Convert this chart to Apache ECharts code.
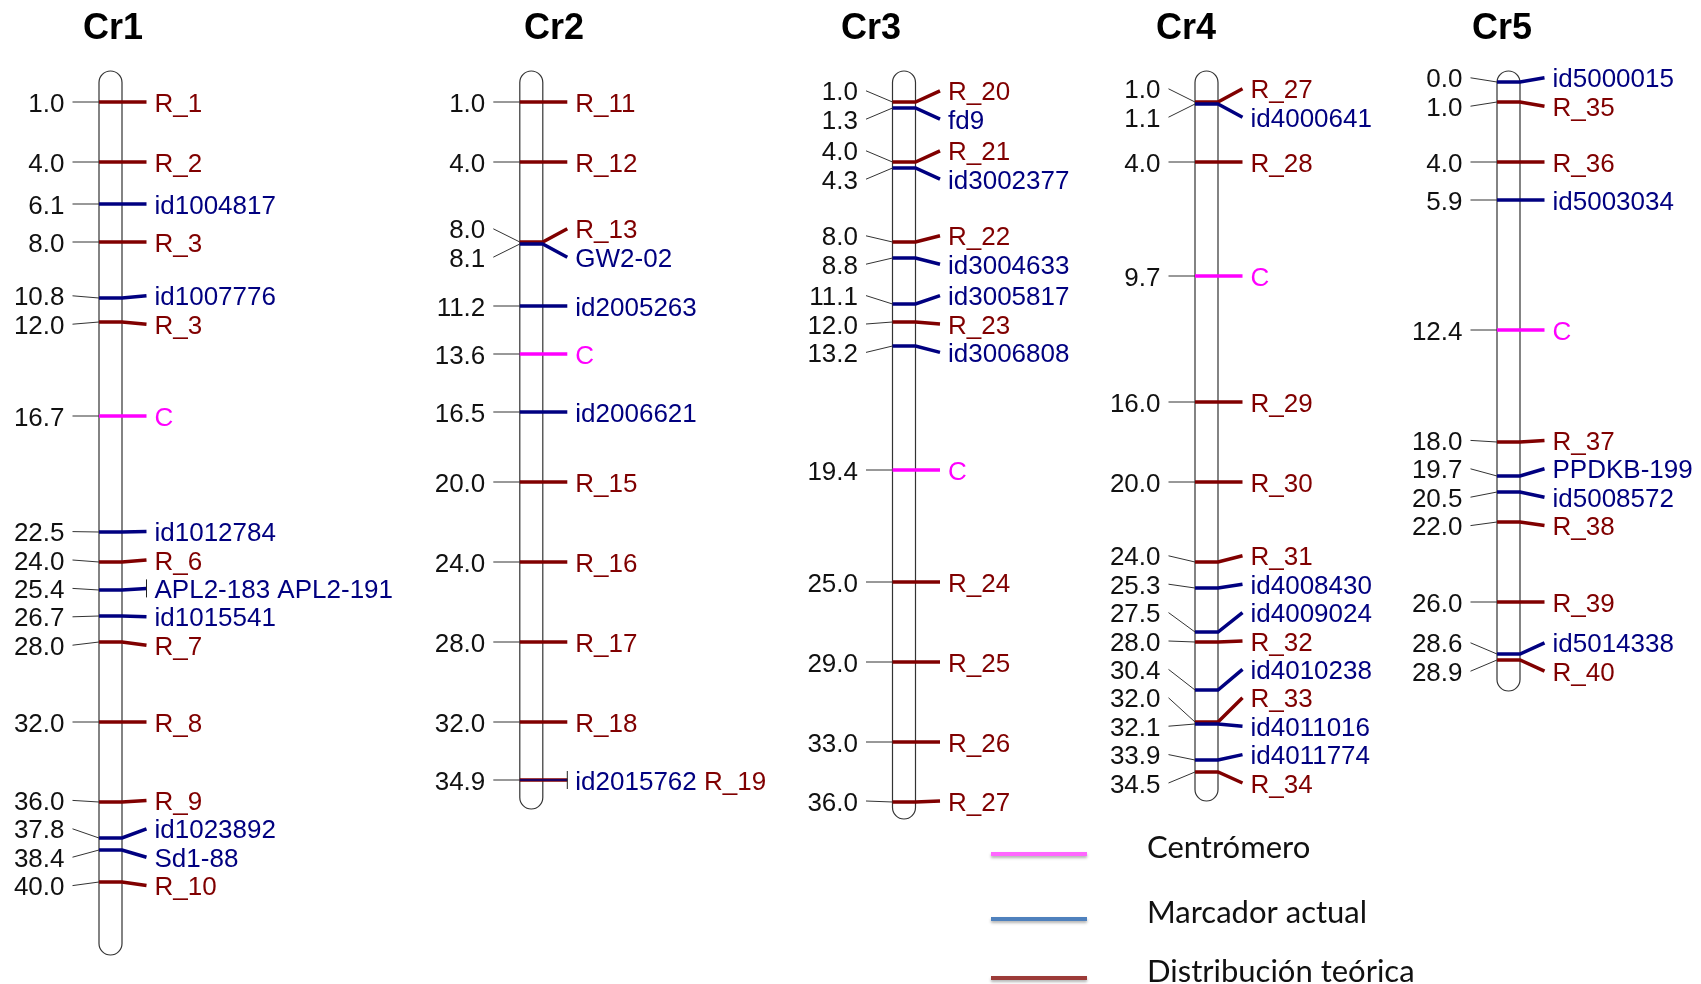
<!DOCTYPE html>
<html>
<head>
<meta charset="utf-8">
<title>Mapa de ligamiento</title>
<script src="https://cdn.jsdelivr.net/npm/echarts@6/dist/echarts.min.js"></script>
<style>
html, body { margin: 0; padding: 0; background: #fff; }
#chart { width: 1701px; height: 984px; }
</style>
</head>
<body>
<div id="chart"></div>
<script>
// datos: [marcador, posición cM, tipo]  R = distribución teórica, M = marcador actual, C = centrómero
var chromNames = ['Cr1', 'Cr2', 'Cr3', 'Cr4', 'Cr5'];
var chromLengths = [43.1, 35.8, 36.3, 35.4, 29.9];

var cr1 = [
    ['R_1', 1.0, 'R'], ['R_2', 4.0, 'R'], ['id1004817', 6.1, 'M'], ['R_3', 8.0, 'R'],
    ['id1007776', 10.8, 'M'], ['R_3', 12.0, 'R'], ['C', 16.7, 'C'], ['id1012784', 22.5, 'M'],
    ['R_6', 24.0, 'R'], ['APL2-183', 25.4, 'M'], ['APL2-191', 25.4, 'M'], ['id1015541', 26.7, 'M'],
    ['R_7', 28.0, 'R'], ['R_8', 32.0, 'R'], ['R_9', 36.0, 'R'], ['id1023892', 37.8, 'M'],
    ['Sd1-88', 38.4, 'M'], ['R_10', 40.0, 'R']
];
var cr2 = [
    ['R_11', 1.0, 'R'], ['R_12', 4.0, 'R'], ['R_13', 8.0, 'R'], ['GW2-02', 8.1, 'M'],
    ['id2005263', 11.2, 'M'], ['C', 13.6, 'C'], ['id2006621', 16.5, 'M'], ['R_15', 20.0, 'R'],
    ['R_16', 24.0, 'R'], ['R_17', 28.0, 'R'], ['R_18', 32.0, 'R'], ['id2015762', 34.9, 'M'],
    ['R_19', 34.9, 'R']
];
var cr3 = [
    ['R_20', 1.0, 'R'], ['fd9', 1.3, 'M'], ['R_21', 4.0, 'R'], ['id3002377', 4.3, 'M'],
    ['R_22', 8.0, 'R'], ['id3004633', 8.8, 'M'], ['id3005817', 11.1, 'M'], ['R_23', 12.0, 'R'],
    ['id3006808', 13.2, 'M'], ['C', 19.4, 'C'], ['R_24', 25.0, 'R'], ['R_25', 29.0, 'R'],
    ['R_26', 33.0, 'R'], ['R_27', 36.0, 'R']
];
var cr4 = [
    ['R_27', 1.0, 'R'], ['id4000641', 1.1, 'M'], ['R_28', 4.0, 'R'], ['C', 9.7, 'C'],
    ['R_29', 16.0, 'R'], ['R_30', 20.0, 'R'], ['R_31', 24.0, 'R'], ['id4008430', 25.3, 'M'],
    ['id4009024', 27.5, 'M'], ['R_32', 28.0, 'R'], ['id4010238', 30.4, 'M'], ['R_33', 32.0, 'R'],
    ['id4011016', 32.1, 'M'], ['id4011774', 33.9, 'M'], ['R_34', 34.5, 'R']
];
var cr5 = [
    ['id5000015', 0.0, 'M'], ['R_35', 1.0, 'R'], ['R_36', 4.0, 'R'], ['id5003034', 5.9, 'M'],
    ['C', 12.4, 'C'], ['R_37', 18.0, 'R'], ['PPDKB-199', 19.7, 'M'], ['id5008572', 20.5, 'M'],
    ['R_38', 22.0, 'R'], ['R_39', 26.0, 'R'], ['id5014338', 28.6, 'M'], ['R_40', 28.9, 'R']
];
var legendLabels = ['Centrómero', 'Marcador actual', 'Distribución teórica'];

// posición horizontal de cada cromosoma y su título (px)
var chromX = [110.5, 531.3, 904, 1206.5, 1508.5];
var titleX = [113, 554, 871, 1186, 1502];

var markerColor = { R: '#800000', M: '#000080', C: '#ff00ff' };
var HALF = 11.5;        // mitad del ancho del cromosoma
var LABEL_GAP = 1.42;   // separación mínima entre etiquetas (cM)
var TEXT_DY = 2.5;      // ajuste vertical del texto
var FONT = 'Liberation Sans, Arial, sans-serif';
var FS = 26;

// agrupa marcadores en la misma posición
function groupMarkers(list) {
    var groups = [];
    list.forEach(function (m) {
        var last = groups[groups.length - 1];
        if (last && last.pos === m[1]) {
            last.items.push(m);
        } else {
            groups.push({ pos: m[1], items: [m] });
        }
    });
    return groups;
}

// reparte las etiquetas para que no se encimen
function spreadLabels(positions, maxPos, gap) {
    var blocks = positions.map(function (p) { return { n: 1, sum: p }; });
    function center(b) {
        var c = b.sum / b.n;
        var bottom = c + (b.n - 1) / 2 * gap;
        if (bottom > maxPos) c -= bottom - maxPos;
        return c;
    }
    var merged = true;
    while (merged) {
        merged = false;
        for (var i = 0; i < blocks.length - 1; i++) {
            var a = blocks[i], b = blocks[i + 1];
            var aBottom = center(a) + (a.n - 1) / 2 * gap;
            var bTop = center(b) - (b.n - 1) / 2 * gap;
            if (bTop - aBottom < gap - 1e-9) {
                blocks.splice(i, 2, { n: a.n + b.n, sum: a.sum + b.sum });
                merged = true;
                break;
            }
        }
    }
    var out = [];
    blocks.forEach(function (b) {
        var c = center(b);
        for (var k = 0; k < b.n; k++) out.push(c + (k - (b.n - 1) / 2) * gap);
    });
    return out;
}

var allChroms = [cr1, cr2, cr3, cr4, cr5];
var series = [];

allChroms.forEach(function (list, ci) {
    var xc = chromX[ci];
    var groups = groupMarkers(list);
    var labelPos = spreadLabels(groups.map(function (g) { return g.pos; }), chromLengths[ci] - 0.35, LABEL_GAP);

    // cuerpo del cromosoma
    series.push({
        type: 'custom',
        name: chromNames[ci],
        silent: true,
        data: [[0, chromLengths[ci]]],
        renderItem: function (params, api) {
            var top = api.coord([xc, api.value(0)]);
            var bot = api.coord([xc, api.value(1)]);
            return {
                type: 'rect',
                shape: { x: top[0] - HALF, y: top[1] - 11, width: HALF * 2, height: bot[1] - top[1] + 22, r: HALF },
                style: { fill: '#fff', stroke: '#333', lineWidth: 1.2 }
            };
        }
    });

    // marcadores
    series.push({
        type: 'custom',
        name: chromNames[ci] + ' marcadores',
        silent: true,
        data: groups.map(function (g, i) { return [g.pos, labelPos[i]]; }),
        renderItem: function (params, api) {
            var g = groups[params.dataIndex];
            var p = api.coord([xc, api.value(0)]);
            var l = api.coord([xc, api.value(1)]);
            var x = p[0], y = p[1], ly = l[1];
            var children = [];

            children.push({
                type: 'line',
                shape: { x1: x - 38, y1: ly, x2: x - HALF, y2: y },
                style: { stroke: '#333', lineWidth: 1 }
            });
            children.push({
                type: 'text',
                style: {
                    text: g.pos.toFixed(1), x: x - 46, y: ly + TEXT_DY,
                    fill: '#111', fontSize: FS, fontFamily: FONT,
                    align: 'right', verticalAlign: 'middle'
                }
            });

            var types = [];
            g.items.forEach(function (m) { if (types.indexOf(m[2]) < 0) types.push(m[2]); });
            var pts = [[x - HALF, y], [x + HALF, y], [x + 36, ly]];
            if (types.indexOf('R') >= 0) {
                children.push({ type: 'polyline', shape: { points: pts }, style: { stroke: markerColor.R, lineWidth: 3.5, fill: null } });
            }
            if (types.indexOf('C') >= 0) {
                children.push({ type: 'polyline', shape: { points: pts }, style: { stroke: markerColor.C, lineWidth: 3.5, fill: null } });
            }
            if (types.indexOf('M') >= 0) {
                children.push({ type: 'polyline', shape: { points: pts },
                    style: { stroke: markerColor.M, lineWidth: types.length > 1 ? 1.6 : 3.5, fill: null } });
            }
            if (g.items.length > 1) {
                children.push({
                    type: 'line',
                    shape: { x1: x + 36, y1: ly - 9, x2: x + 36, y2: ly + 9 },
                    style: { stroke: '#222', lineWidth: 1 }
                });
            }

            var text = g.items.map(function (m) { return '{' + m[2] + '|' + m[0] + '}'; }).join(' ');
            children.push({
                type: 'text',
                style: {
                    text: text, x: x + 44, y: ly + TEXT_DY,
                    fontSize: FS, fontFamily: FONT, fill: '#000',
                    align: 'left', verticalAlign: 'middle',
                    rich: {
                        R: { fill: markerColor.R, fontSize: FS, fontFamily: FONT },
                        M: { fill: markerColor.M, fontSize: FS, fontFamily: FONT },
                        C: { fill: markerColor.C, fontSize: FS, fontFamily: FONT }
                    }
                }
            });
            return { type: 'group', children: children };
        }
    });
});

// leyenda
var legendColors = ['#ff66ff', '#4f81bd', '#9c3b38'];
var legendY = [854, 919, 978];
var graphics = [];
legendLabels.forEach(function (txt, i) {
    graphics.push({
        type: 'line',
        shape: { x1: 991, y1: legendY[i], x2: 1087, y2: legendY[i] },
        style: { stroke: legendColors[i], lineWidth: 4, shadowBlur: 3, shadowOffsetY: 2, shadowColor: 'rgba(0,0,0,0.3)' }
    });
    graphics.push({
        type: 'text',
        x: 1147, y: legendY[i] - 6,
        style: { text: txt, fill: '#111', fontSize: 31, fontFamily: 'Lato, sans-serif', verticalAlign: 'middle' }
    });
});

var chart = echarts.init(document.getElementById('chart'));
chart.setOption({
    animation: false,
    backgroundColor: '#fff',
    title: chromNames.map(function (n, i) {
        return {
            text: n, left: titleX[i], top: 11, textAlign: 'center', padding: 0,
            textStyle: { fontSize: 36, fontWeight: 'bold', color: '#000', fontFamily: FONT }
        };
    }),
    grid: { left: 0, right: 0, top: 2, height: 960 },
    xAxis: { type: 'value', min: 0, max: 1701, show: false },
    yAxis: { type: 'value', inverse: true, min: -4, max: 44, show: false },
    graphic: graphics,
    series: series
});
</script>
</body>
</html>
